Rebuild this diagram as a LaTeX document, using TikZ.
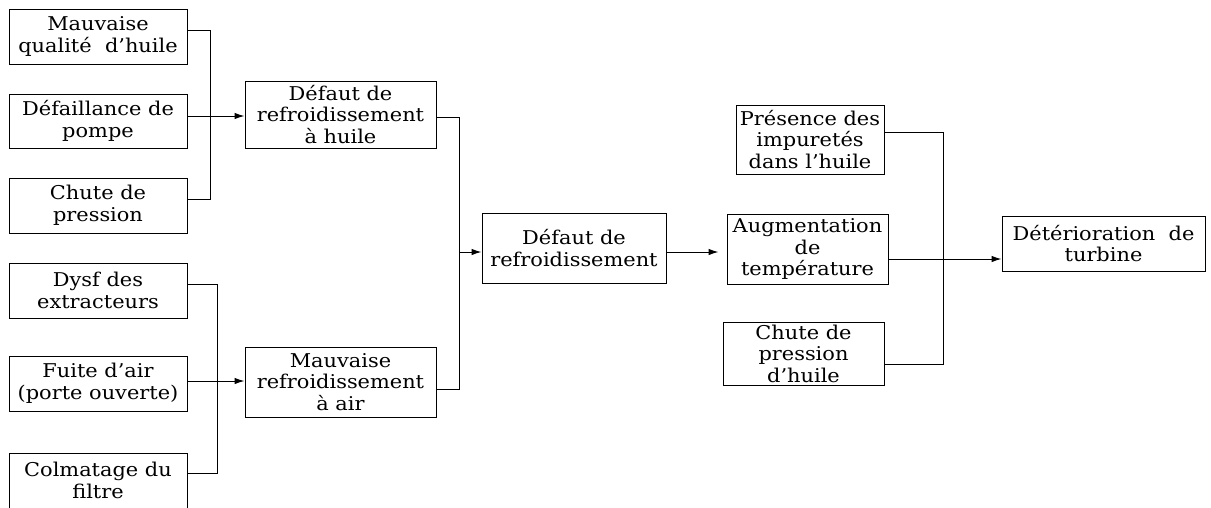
\documentclass[tikz,border=0pt]{standalone}
\usepackage{fontspec}
\setmainfont{DejaVu Serif}[FakeStretch=1.1]
\usetikzlibrary{arrows.meta,calc}
\begin{document}
\begin{tikzpicture}[x=1pt,y=-1pt,
  box/.style={draw, line width=1pt, align=center, inner sep=0pt,
    font=\fontsize{19}{21.5}\selectfont},
  ln/.style={line width=1pt},
  arr/.style={-{Latex[length=10pt,width=6.5pt]}}]
\useasboundingbox (0,0) rectangle (1211,507);
\clip (0,0) rectangle (1211,507);
% left column, top group
\node[box, minimum width=178pt, minimum height=55pt] (n1) at (98,36.5) {Mauvaise\\qualité\ \ d’huile};
\node[box, minimum width=178pt, minimum height=54pt] (n2) at (98,121) {Défaillance de\\pompe};
\node[box, minimum width=178pt, minimum height=55pt] (n3) at (98,205.5) {Chute de\\pression};
% left column, bottom group
\node[box, minimum width=178pt, minimum height=55pt] (n5) at (98,290.5) {Dysf des\\extracteurs};
\node[box, minimum width=178pt, minimum height=55pt] (n6) at (98,383.5) {Fuite d’air\\(porte ouverte)};
\node[box, minimum width=178pt, minimum height=55pt] (n7) at (98,480.5) {Colmatage du\\filtre};
% second column
\node[box, minimum width=191pt, minimum height=67pt] (n4) at (340.5,114.5) {Défaut de\\refroidissement\\à huile};
\node[box, minimum width=191pt, minimum height=70pt] (n8) at (340.5,382) {Mauvaise\\refroidissement\\à air};
% middle
\node[box, minimum width=184pt, minimum height=70pt] (n9) at (574,248) {Défaut de\\refroidissement};
% right column
\node[box, minimum width=148pt, minimum height=69pt] (n12) at (810,139.5) {Présence des\\impuretés\\dans l’huile};
\node[box, minimum width=161pt, minimum height=70pt] (n10) at (807.5,249) {Augmentation\\de\\température};
\node[box, minimum width=161pt, minimum height=63pt] (n13) at (803.5,353.5) {Chute de\\pression\\d’huile};
\node[box, minimum width=203pt, minimum height=55pt] (n11) at (1103.5,243.5) {Détérioration\ \ de\\turbine};
% junctions
\coordinate (j1) at (210,116);
\coordinate (j2) at (217,381);
\coordinate (j3) at (459,252);
\coordinate (j4) at (943,259);
% connectors
\draw[ln] ([yshift=6.5pt]n1.east) -| (j1);
\draw[ln] ([yshift=6.5pt]n3.east) -| (j1);
\draw[ln,arr] (n2.east |- j1) -- (n4.west |- j1);
\draw[ln] ([yshift=6.5pt]n5.east) -| (j2);
\draw[ln] ([yshift=7.5pt]n7.east) -| (j2);
\draw[ln,arr] (n6.east |- j2) -- (n8.west |- j2);
\draw[ln] ([yshift=-2.5pt]n4.east) -| (j3);
\draw[ln] ([yshift=-7pt]n8.east) -| (j3);
\draw[ln,arr] (j3) -- (n9.west |- j3);
\draw[ln,arr,shorten >=8pt] (n9.east |- j3) -- (n10.west |- j3);
\draw[ln] ([yshift=7.5pt]n12.east) -| (j4);
\draw[ln] ([yshift=-10.5pt]n13.east) -| (j4);
\draw[ln,arr] (n10.east |- j4) -- (n11.west |- j4);
\end{tikzpicture}
\end{document}
